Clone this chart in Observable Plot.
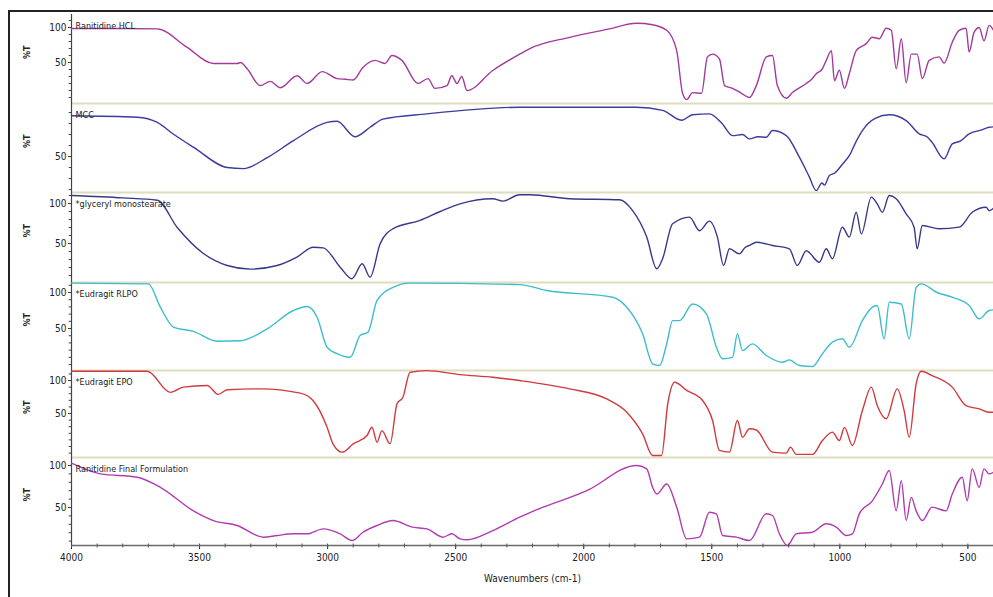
<!DOCTYPE html>
<html>
<head>
<meta charset="utf-8">
<script src="https://cdn.jsdelivr.net/npm/d3@7"></script>
<script src="https://cdn.jsdelivr.net/npm/@observablehq/plot@0.6"></script>
<style>
  html, body { margin: 0; padding: 0; background: #fff; }
  #root { position: relative; width: 993px; height: 597px; overflow: hidden; background: #fff; }
  #frame { position: absolute; left: 8px; top: 10px; width: 990px; height: 600px;
           border-top: 2px solid #222; border-left: 2px solid #222; box-sizing: border-box; }
  .panel { position: absolute; left: 0; }
  .panel svg { overflow: visible; }
</style>
</head>
<body>
<div id="root"><div id="frame"></div></div>
<script>
// ---- Data (wavenumber cm-1, %T) ----
const seriesNames = ["Ranitidine HCL", "MCC", "*glyceryl monostearate", "*Eudragit RLPO", "*Eudragit EPO", "Ranitidine Final Formulation"];
const seriesColors = ["#a23a9c", "#3b3ba0", "#38388a", "#3dbdcc", "#d2393d", "#b03db0"];

const ranitidineHCl = [
  [4000, 98.6], [3800, 98.6], [3665, 98], [3550, 72], [3446, 48.6], [3353, 48.6], [3340, 50], [3314, 41],
  [3263, 17], [3224, 23], [3185, 14], [3119, 31], [3080, 20], [3021, 37], [2963, 27], [2930, 26],
  [2900, 25], [2862, 43], [2815, 53], [2776, 48.6], [2749, 60], [2710, 53], [2647, 20], [2608, 27],
  [2581, 13], [2534, 17], [2515, 31], [2495, 20], [2476, 30], [2456, 10], [2355, 38.6], [2250, 62],
  [2210, 70], [2055, 86], [1900, 98], [1794, 106], [1731, 104], [1676, 96], [1637, 67], [1614, 6],
  [1598, -3], [1575, 7], [1540, 6], [1517, 58], [1497, 62], [1470, 55], [1450, 17], [1419, 13],
  [1384, 6], [1353, 0], [1326, 17], [1287, 58], [1263, 60], [1244, 17], [1209, -1], [1185, 7],
  [1131, 20], [1110, 26], [1092, 34], [1070, 40], [1053, 53], [1033, 67], [1021, 24], [1002, 39],
  [982, 13], [963, 34], [936, 67], [897, 77], [873, 86], [846, 84], [819, 99], [799, 96],
  [780, 41], [760, 84], [741, 21], [721, 62], [698, 62], [678, 27], [651, 53], [612, 58],
  [593, 49], [561, 79], [534, 96], [507, 99], [495, 65], [476, 93], [456, 100], [437, 81],
  [417, 103], [400, 96]
];
const mcc = [
  [4000, 87], [3743, 85.7], [3665, 81], [3600, 70], [3524, 58.5], [3392, 40], [3329, 39], [3236, 49],
  [3133, 64.5], [3002, 81], [2963, 82], [2893, 68], [2834, 76.6], [2784, 84], [2612, 88.8], [2250, 94.8],
  [1794, 94.8], [1692, 92], [1618, 83], [1575, 88], [1509, 88.8], [1460, 80], [1419, 69], [1380, 70],
  [1353, 66], [1320, 68], [1287, 67.5], [1263, 73.6], [1209, 69], [1158, 49.4], [1120, 32], [1092, 19],
  [1070, 26], [1060, 24], [1041, 32.7], [1020, 35], [990, 43], [960, 52], [940, 62], [912, 73.6],
  [860, 85], [807, 88], [741, 82.7], [690, 70.6], [660, 68], [640, 63], [593, 47.9], [561, 61.5],
  [530, 64], [495, 70.6], [450, 74], [417, 76.6], [400, 77]
];
const glycerylMonostearate = [
  [4000, 110], [3800, 107], [3665, 104], [3587, 70], [3485, 37.5], [3392, 22.5], [3302, 18], [3197, 22.5],
  [3120, 33], [3056, 45.4], [3017, 44.6], [2951, 20.4], [2905, 6], [2865, 24.6], [2834, 8], [2795, 49.6],
  [2745, 68.4], [2639, 78.8], [2560, 90], [2483, 99.6], [2355, 106], [2316, 103], [2250, 111], [2210, 111],
  [2055, 106], [1860, 104.6], [1809, 91], [1754, 58], [1715, 18.4], [1692, 31], [1653, 74.6], [1587, 83],
  [1548, 66], [1509, 78], [1478, 58], [1454, 22.5], [1431, 43.4], [1392, 37], [1370, 45], [1350, 48],
  [1326, 51.6], [1263, 47.5], [1197, 43.4], [1166, 22.5], [1131, 41], [1080, 26.6], [1053, 43.4], [1029, 31],
  [990, 70.4], [963, 58], [936, 89], [916, 62], [877, 108], [854, 99.6], [834, 89], [807, 110],
  [780, 106], [741, 87], [710, 70.4], [698, 43.4], [678, 72.5], [612, 68.4], [534, 70.4], [483, 89],
  [429, 95.4], [417, 91], [400, 94]
];
const eudragitRLPO = [
  [4000, 113], [3700, 112], [3653, 79.6], [3602, 52], [3524, 46], [3431, 32.4], [3341, 33], [3236, 49.6],
  [3134, 75], [3080, 80.6], [3041, 65.7], [3002, 24], [2963, 15], [2912, 10], [2873, 40.3], [2842, 45],
  [2807, 89], [2745, 107], [2678, 113], [2250, 111], [2144, 102.8], [1887, 93.5], [1832, 79.6], [1770, 42.6],
  [1731, 1], [1704, -1.4], [1676, 28.7], [1653, 61], [1626, 61], [1575, 84], [1521, 70.4], [1482, 24],
  [1458, 8], [1419, 10], [1400, 42.6], [1380, 19.4], [1341, 28.7], [1287, 12.5], [1224, 3.2], [1197, 6.5],
  [1158, -1.4], [1107, -2.8], [1068, 15], [1029, 31], [990, 35.7], [963, 24], [912, 61], [873, 79.6],
  [854, 82], [827, 35.7], [807, 86.5], [760, 84], [729, 35.7], [702, 107], [682, 112], [620, 100],
  [561, 93.5], [495, 82], [456, 63.5], [417, 75], [400, 76]
];
const eudragitEPO = [
  [4000, 114], [3704, 114], [3614, 82], [3563, 90], [3470, 92.4], [3427, 79], [3392, 86], [3263, 87.4],
  [3107, 80.8], [3057, 69.7], [3002, 29.2], [2979, 4], [2943, -8.6], [2900, 4], [2846, 16.7], [2827, 29.2],
  [2807, 6.5], [2788, 24], [2756, 4], [2729, 64.7], [2706, 74.7], [2678, 112.6], [2612, 115], [2483, 109],
  [2355, 105], [2250, 100], [2055, 87.4], [1910, 72], [1832, 52], [1770, 19], [1731, -13.6], [1696, -13.6],
  [1672, 64.7], [1645, 97.5], [1598, 85], [1536, 69.7], [1497, 39.4], [1470, -6], [1431, -8.6], [1400, 39.4],
  [1380, 14], [1353, 26.8], [1326, 25], [1263, -8.6], [1209, -10], [1193, -1], [1170, -12], [1107, -12],
  [1068, 9], [1029, 21.7], [1002, 9], [982, 29], [951, 1.5], [912, 54.5], [877, 90], [854, 62],
  [819, 42], [776, 87.4], [749, 54.5], [729, 14], [702, 95], [682, 114], [640, 107.6], [561, 90],
  [507, 62], [456, 57], [417, 52], [400, 52]
];
const finalFormulation = [
  [4000, 102.7], [3887, 90], [3743, 86], [3653, 74], [3524, 46], [3446, 34.5], [3353, 28.6], [3251, 14.7],
  [3197, 16.7], [3134, 18.7], [3080, 18.7], [3017, 24.6], [2951, 18.7], [2904, 10.7], [2862, 20.6], [2807, 28.6],
  [2745, 34.5], [2667, 26.6], [2612, 24.6], [2550, 14.7], [2515, 18.7], [2483, 12.7], [2456, 11.6], [2355, 22.6],
  [2250, 38.5], [2210, 44], [1988, 70], [1794, 100], [1754, 96], [1731, 74], [1715, 66], [1676, 78],
  [1637, 50.4], [1598, 12.7], [1548, 14.7], [1509, 44.4], [1482, 42.5], [1458, 16.7], [1404, 14.7], [1353, 10.7],
  [1287, 42.5], [1263, 40.5], [1236, 18.7], [1205, 4.8], [1170, 18.7], [1107, 20.6], [1053, 30.6], [1014, 26.6],
  [975, 16.7], [951, 18.7], [924, 42.5], [873, 58], [834, 78], [807, 94], [780, 46], [760, 82],
  [741, 34.5], [721, 62], [702, 46], [678, 34.5], [640, 50.4], [585, 46], [561, 66], [522, 86],
  [503, 58], [483, 96], [456, 74], [437, 96], [417, 90], [400, 92]
];
const seriesData = [ranitidineHCl, mcc, glycerylMonostearate, eudragitRLPO, eudragitEPO, finalFormulation];

// per-panel %T axis ranges (each OMNIC panel is scaled on its own)
const yRanges = [[-8.6, 118.6], [17.3, 98.2], [1.25, 113.75], [-8.3, 113.9], [-16.7, 115.2], [4.8, 109.5]];
const yTickLabels = [50, 100];
const yAxisTitle = "%T";
const xTickLabels = [4000, 3500, 3000, 2500, 2000, 1500, 1000, 500];
const xMinorTicks = d3.range(500, 4001, 100);
const xAxisTitle = "Wavenumbers (cm-1)";
const xRange = [4000, 400];

// ---- layout ----
const panelTops = [14, 103, 192, 282, 370, 457];
const panelHeights = [89, 89, 90, 88, 87, 88];
const FONT = "'Liberation Sans Narrow', 'DejaVu Sans Condensed', 'Liberation Sans', sans-serif";

const root = document.getElementById("root");

seriesData.forEach((raw, i) => {
  const last = i === seriesData.length - 1;
  const [lo, hi] = yRanges[i];
  const data = raw.map(([wn, t]) => ({wn, t}));
  const minor = d3.range(Math.ceil(lo / 10) * 10, hi, 10);
  const major = yTickLabels.filter(v => v >= lo && v <= hi);
  const marks = [
    Plot.ruleY([lo], {stroke: last ? "#6a6a6a" : "#deddbd", strokeWidth: last ? 1.5 : 2}),
    Plot.ruleX([xRange[0]], {stroke: "#444", strokeWidth: 1.2}),
    Plot.ruleY(minor, {x1: 4000, x2: 4009, stroke: "#444", strokeWidth: 1}),
    Plot.line(data, {x: "wn", y: "t", stroke: seriesColors[i], strokeWidth: 1.4, curve: "monotone-x"}),
    Plot.text([seriesNames[i]], {frameAnchor: "top-left", dx: 4, dy: 12, lineAnchor: "middle",
                                 textAnchor: "start", fill: "#222", fontSize: 9}),
    Plot.text([yAxisTitle], {frameAnchor: "left", dx: -44, rotate: -90, fill: "#222", fontSize: 9, fontWeight: "bold"})
  ];
  if (last) {
    const k = (hi - lo) / panelHeights[i];
    marks.push(
      Plot.ruleX(xMinorTicks, {y1: lo - 2.5 * k, y2: lo + 1.5 * k, stroke: "#555", strokeWidth: 1}),
      Plot.text([xAxisTitle], {frameAnchor: "bottom", dy: 33, lineAnchor: "middle", fill: "#222", fontSize: 10})
    );
  }
  const chart = Plot.plot({
    width: 993,
    height: panelHeights[i] + (last ? 52 : 0),
    marginLeft: 71, marginRight: 0, marginTop: 0, marginBottom: last ? 52 : 0,
    style: {fontFamily: FONT, fontSize: "10px", background: "transparent", overflow: "visible", color: "#222"},
    x: last
      ? {domain: xRange, ticks: xTickLabels, tickSize: 4, tickPadding: 4, tickFormat: d => String(d), label: null}
      : {domain: xRange, axis: null},
    y: {domain: [lo, hi], ticks: major, tickSize: 3, tickPadding: 2, tickFormat: d => String(d), label: null},
    marks
  });
  const holder = document.createElement("div");
  holder.className = "panel";
  holder.style.top = panelTops[i] + "px";
  holder.appendChild(chart);
  root.appendChild(holder);
});
</script>
</body>
</html>
